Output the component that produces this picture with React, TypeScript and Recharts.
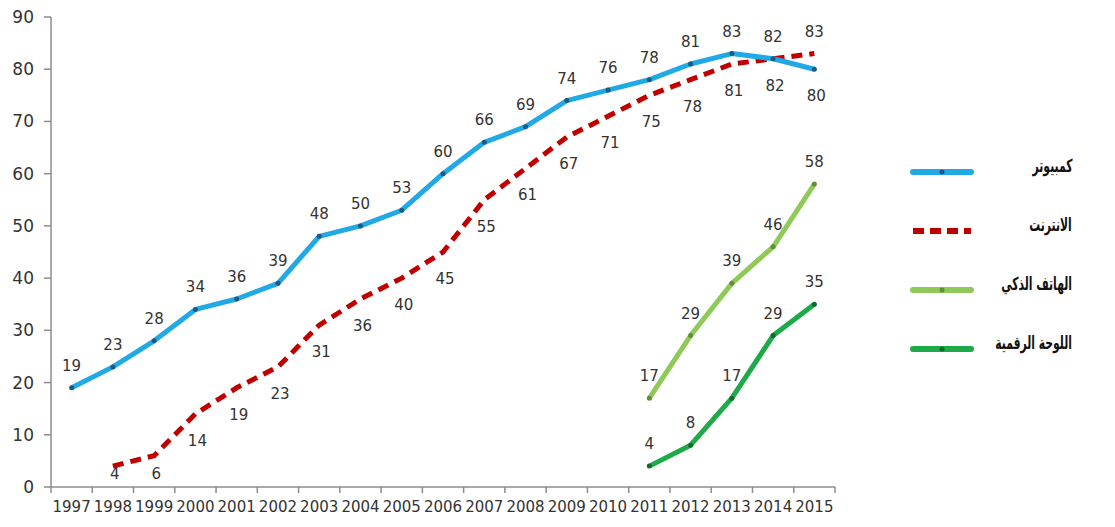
import React from "react";
import { LineChart, Line, XAxis, YAxis, LabelList } from "recharts";

const years = [
  "1997", "1998", "1999", "2000", "2001", "2002", "2003", "2004", "2005", "2006",
  "2007", "2008", "2009", "2010", "2011", "2012", "2013", "2014", "2015",
];
const computer = [19, 23, 28, 34, 36, 39, 48, 50, 53, 60, 66, 69, 74, 76, 78, 81, 83, 82, 80];
const internet = [null, 4, 6, 14, 19, 23, 31, 36, 40, 45, 55, 61, 67, 71, 75, 78, 81, 82, 83];
const smartphone = [null, null, null, null, null, null, null, null, null, null, null, null, null, null, 17, 29, 39, 46, 58];
const tablet = [null, null, null, null, null, null, null, null, null, null, null, null, null, null, 4, 8, 17, 29, 35];
const yTicks = [0, 10, 20, 30, 40, 50, 60, 70, 80, 90];

const seriesNames = {
  computer: "كمبيوتر",
  internet: "الانترنت",
  smartphone: "الهاتف الذكي",
  tablet: "اللوحة الرقمية",
};

const data = years.map((year, i) => ({
  year,
  computer: computer[i],
  internet: internet[i],
  smartphone: smartphone[i],
  tablet: tablet[i],
}));

const FONT = "'DejaVu Sans', Verdana, sans-serif";
const AXIS = "#8c8c8c";
const TEXT = "#333";

const W = 1115;
const H = 527;
const PLOT_LEFT = 51;
const PLOT_RIGHT = 835;
const PLOT_BOTTOM = 487;
const BAND = (PLOT_RIGHT - PLOT_LEFT) / years.length;

// excel-style category ticks: marks sit on the band boundaries
const YearTick = (props: any) => {
  const { x, y, payload, index } = props;
  const last = index === years.length - 1;
  return (
    <g>
      <line x1={x - BAND / 2} x2={x - BAND / 2} y1={y - 8} y2={y - 2} stroke={AXIS} strokeWidth={1.5} />
      {last && <line x1={x + BAND / 2} x2={x + BAND / 2} y1={y - 8} y2={y - 2} stroke={AXIS} strokeWidth={1.5} />}
      <text x={x} y={y + 17} textAnchor="middle" fontSize={15} fontFamily={FONT} fill={TEXT}>
        {payload.value}
      </text>
    </g>
  );
};

// value label above or below the point; `below` decides per index.
// labels under a point never drop past the x axis
const valueLabel = (below: (i: number) => boolean) => (props: any) => {
  const { x, y, value, index } = props;
  if (value == null || y == null) return null;
  const under = below(index);
  const ty = under ? Math.min(y + 32, PLOT_BOTTOM - 8) : y - 17;
  return (
    <text
      x={x + (under ? 2 : 0)}
      y={ty}
      textAnchor="middle"
      fontSize={15}
      fontFamily={FONT}
      fill={TEXT}
    >
      {value}
    </text>
  );
};

const legendItems = [
  { label: seriesNames.computer, color: "#21a9e6", dash: undefined, marker: "#1c5a86" },
  { label: seriesNames.internet, color: "#c00000", dash: "11 6", marker: null },
  { label: seriesNames.smartphone, color: "#8fca58", dash: undefined, marker: "#5f8f36" },
  { label: seriesNames.tablet, color: "#1faa4a", dash: undefined, marker: "#0f6a2b" },
];

const SideLegend = () => (
  <div style={{ position: "absolute", left: 905, top: 155, width: 175 }}>
    {legendItems.map((item) => (
      <div key={item.label} style={{ position: "relative", height: 59 }}>
        <svg width={70} height={20} style={{ position: "absolute", left: 0, top: 7 }}>
          <line
            x1={8}
            x2={66}
            y1={10}
            y2={10}
            stroke={item.color}
            strokeWidth={6}
            strokeDasharray={item.dash}
            strokeLinecap={item.dash ? "butt" : "round"}
          />
          {item.marker && <circle cx={37} cy={10} r={2.5} fill={item.marker} />}
        </svg>
        <div
          style={{
            position: "absolute",
            right: 8,
            top: 0,
            direction: "rtl",
            fontFamily: FONT,
            fontWeight: "bold",
            fontSize: 18,
            color: "#111",
            whiteSpace: "nowrap",
            transform: "scaleX(0.6)",
            transformOrigin: "right center",
          }}
        >
          {item.label}
        </div>
      </div>
    ))}
  </div>
);

export default function App() {
  return (
    <div style={{ position: "absolute", left: 0, top: 0, width: W, height: H, background: "#fff" }}>
      <LineChart
        width={W}
        height={H}
        data={data}
        margin={{ top: 17, right: W - PLOT_RIGHT, left: 0, bottom: 10 }}
      >
        <XAxis
          dataKey="year"
          scale="band"
          interval={0}
          height={30}
          stroke={AXIS}
          strokeWidth={1.5}
          tickLine={false}
          tick={<YearTick />}
        />
        <YAxis
          domain={[0, 90]}
          ticks={yTicks}
          width={PLOT_LEFT}
          stroke={AXIS}
          strokeWidth={1.5}
          tickSize={7}
          tickMargin={10}
          tick={{ fontSize: 17, fontFamily: FONT, fill: TEXT }}
        />
        <Line
          type="linear"
          dataKey="internet"
          stroke="#c00000"
          strokeWidth={5}
          strokeDasharray="11 7"
          dot={false}
          isAnimationActive={false}
        >
          <LabelList dataKey="internet" content={valueLabel((i) => i !== years.length - 1)} />
        </Line>
        <Line
          type="linear"
          dataKey="computer"
          stroke="#21a9e6"
          strokeWidth={5}
          strokeLinejoin="round"
          dot={{ r: 2.5, fill: "#1c5a86", stroke: "none" }}
          isAnimationActive={false}
        >
          <LabelList dataKey="computer" content={valueLabel((i) => i === years.length - 1)} />
        </Line>
        <Line
          type="linear"
          dataKey="smartphone"
          stroke="#8fca58"
          strokeWidth={5}
          strokeLinejoin="round"
          dot={{ r: 2.5, fill: "#5f8f36", stroke: "none" }}
          isAnimationActive={false}
        >
          <LabelList dataKey="smartphone" content={valueLabel(() => false)} />
        </Line>
        <Line
          type="linear"
          dataKey="tablet"
          stroke="#1faa4a"
          strokeWidth={5}
          strokeLinejoin="round"
          dot={{ r: 2.5, fill: "#0f6a2b", stroke: "none" }}
          isAnimationActive={false}
        >
          <LabelList dataKey="tablet" content={valueLabel(() => false)} />
        </Line>
      </LineChart>
      <SideLegend />
    </div>
  );
}
